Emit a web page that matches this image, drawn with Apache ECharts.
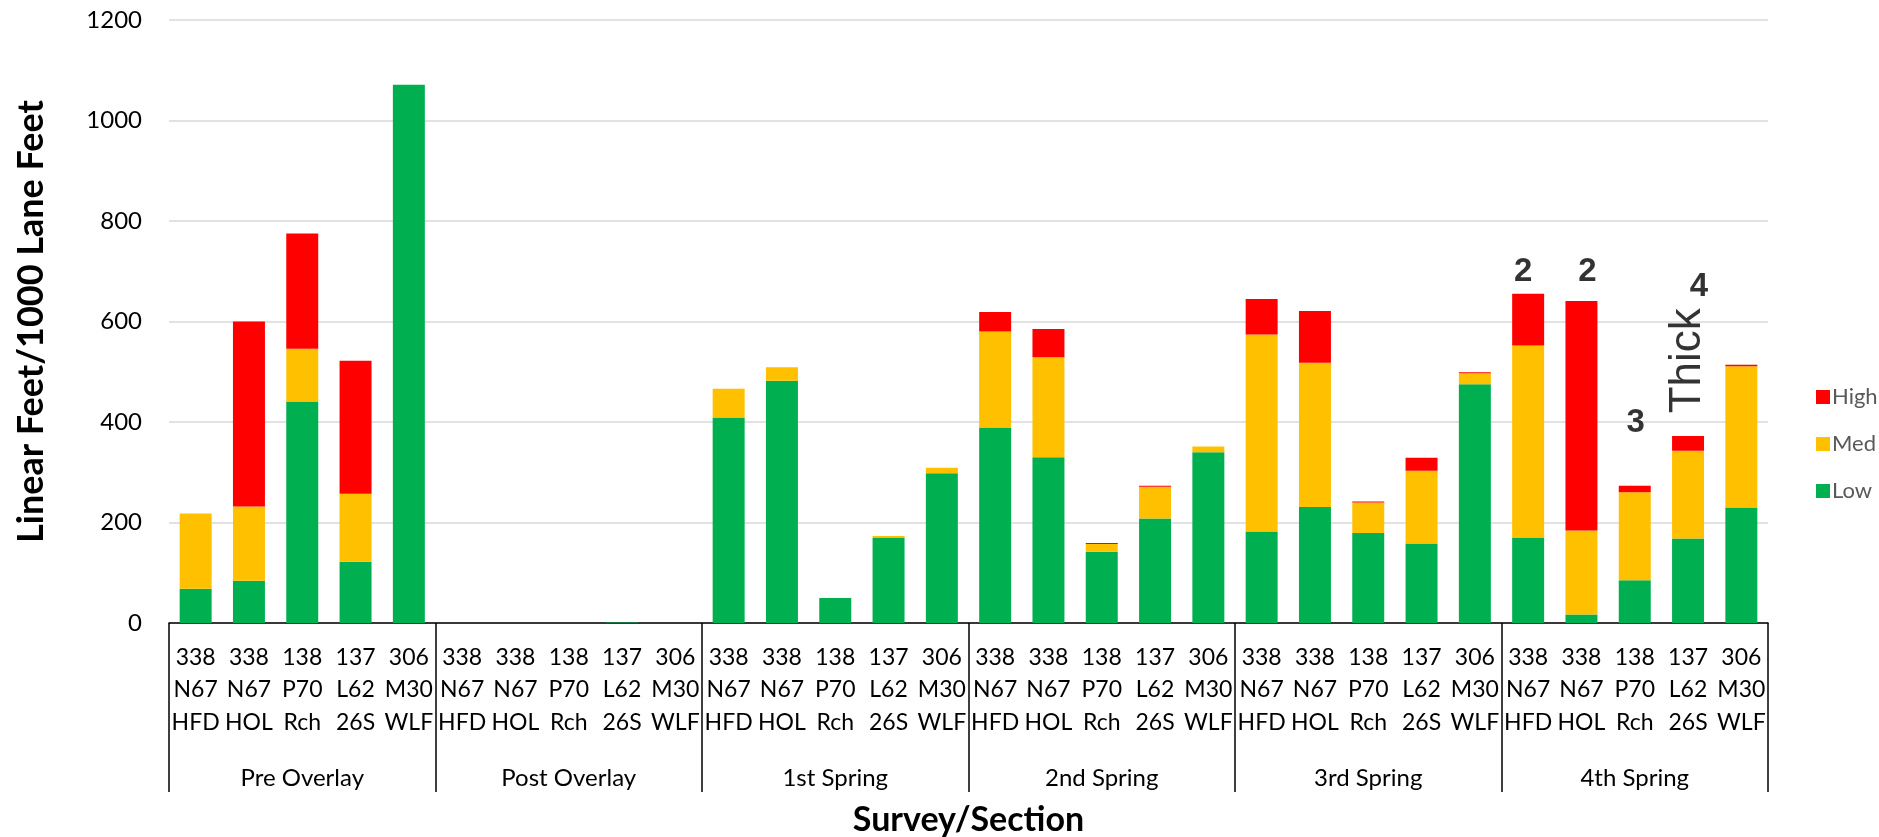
<!DOCTYPE html>
<html>
<head>
<meta charset="utf-8">
<title>Linear Feet per 1000 Lane Feet by Survey and Section</title>
<script src="https://cdn.jsdelivr.net/npm/echarts@6/dist/echarts.min.js"></script>
<style>
  html, body { margin: 0; padding: 0; background: #ffffff; }
  #chart { width: 1879px; height: 837px; }
</style>
</head>
<body>
<div id="chart"></div>
<script>
// Survey periods (outer axis) and road sections (inner axis)
const surveys = ['Pre Overlay', 'Post Overlay', '1st Spring', '2nd Spring', '3rd Spring', '4th Spring'];
const sections = ['338\nN67\nHFD', '338\nN67\nHOL', '138\nP70\nRch', '137\nL62\n26S', '306\nM30\nWLF'];

// Linear feet per 1000 lane feet, one value per survey/section pair
const lowValues = [
  68, 84, 441, 122, 1071,
  0, 0, 0, 1, 0,
  409, 482, 50, 170, 298,
  389, 330, 142, 208, 340,
  182, 231, 179, 158, 475,
  170, 17, 85, 168, 230
];
const medValues = [
  150, 148, 105, 135, 0,
  0, 0, 0, 0, 0,
  57, 27, 0, 3, 11,
  191, 199, 15, 63, 11,
  392, 287, 61, 145, 22,
  382, 167, 175, 175, 281
];
const highValues = [
  0, 368, 229, 265, 0,
  0, 0, 0, 0, 0,
  0, 0, 0, 0, 0,
  39, 56, 2, 2, 0,
  71, 103, 2, 26, 2,
  103, 457, 13, 29, 3
];

// Notes written over the 4th Spring bars: category index, axis level, text
const noteCategories = [25, 26, 27, 28, 28];
const noteLevels = [699, 699, 398, 669, 512];
const noteTexts = ['2', '2', '3', '4', 'Thick'];

const yTicks = { min: 0, max: 1200, step: 200 };

const categories = [];
surveys.forEach(() => sections.forEach(s => categories.push(s)));

const FONT = 'Lato, "Liberation Sans", sans-serif';
const NOTE_FONT = '"Liberation Sans", Arial, sans-serif';
// small horizontal nudges (px) for the hand-placed notes
const noteNudge = [-5, 6, 1, 11, 5];

const noteData = noteTexts.map((t, i) => {
  const isWord = t.length > 1;
  return {
    value: [noteCategories[i], noteLevels[i]],
    name: t,
    label: {
      color: '#000000',
      fontFamily: NOTE_FONT,
      fontSize: isWord ? 44 : 33,
      fontWeight: isWord ? 'normal' : 'bold',
      rotate: isWord ? 90 : 0,
      offset: [noteNudge[i], 0]
    }
  };
});

const chart = echarts.init(document.getElementById('chart'), null, { renderer: 'canvas' });

chart.setOption({
  animation: false,
  backgroundColor: '#ffffff',
  grid: { left: 169, right: 111, top: 20, bottom: 214, containLabel: false, outerBoundsMode: 'none' },
  legend: {
    data: ['High', 'Med', 'Low'],
    orient: 'vertical',
    left: 1811,
    top: 381,
    itemWidth: 14,
    itemHeight: 14,
    itemGap: 25,
    icon: 'rect',
    textStyle: { fontFamily: FONT, fontSize: 22, color: '#595959', lineHeight: 20, padding: [0, 0, 0, -3] }
  },
  xAxis: [
    {
      type: 'category',
      data: categories,
      position: 'bottom',
      axisLine: { show: false },
      axisTick: { show: false },
      axisLabel: {
        interval: 0,
        margin: 18,
        fontFamily: FONT,
        fontSize: 23,
        lineHeight: 32.5,
        color: '#000000'
      }
    },
    {
      type: 'category',
      data: surveys,
      position: 'bottom',
      axisLine: { show: true, lineStyle: { color: '#000000', width: 1.5 } },
      axisTick: { show: true, length: 169, interval: 0, lineStyle: { color: '#000000', width: 1.5 } },
      axisLabel: {
        interval: 0,
        margin: 143,
        fontFamily: FONT,
        fontSize: 24,
        color: '#000000'
      },
      name: 'Survey/Section',
      nameLocation: 'middle',
      nameGap: 180,
      nameTextStyle: { fontFamily: FONT, fontSize: 34, fontWeight: 'bold', color: '#000000' }
    }
  ],
  yAxis: {
    type: 'value',
    min: yTicks.min,
    max: yTicks.max,
    interval: yTicks.step,
    axisLine: { show: false },
    axisTick: { show: false },
    splitLine: { lineStyle: { color: '#d9d9d9', width: 1.5 } },
    axisLabel: {
      margin: 27,
      fontFamily: FONT,
      fontSize: 24,
      color: '#000000',
      formatter: v => String(v)
    },
    name: 'Linear Feet/1000 Lane Feet',
    nameLocation: 'middle',
    nameGap: 120,
    nameTextStyle: { fontFamily: FONT, fontSize: 36, fontWeight: 'bold', color: '#000000' }
  },
  series: [
    { name: 'Low', type: 'bar', stack: 'total', data: lowValues, barWidth: '60%', itemStyle: { color: '#00B050' } },
    { name: 'Med', type: 'bar', stack: 'total', data: medValues, barWidth: '60%', itemStyle: { color: '#FFC000' } },
    { name: 'High', type: 'bar', stack: 'total', data: highValues, barWidth: '60%', itemStyle: { color: '#FF0000' } },
    {
      name: 'notes',
      type: 'scatter',
      symbolSize: 0,
      data: noteData,
      silent: true,
      label: {
        show: true,
        position: 'inside',
        formatter: p => p.name,
        color: '#000000',
        textBorderWidth: 0
      }
    }
  ]
});
</script>
</body>
</html>
